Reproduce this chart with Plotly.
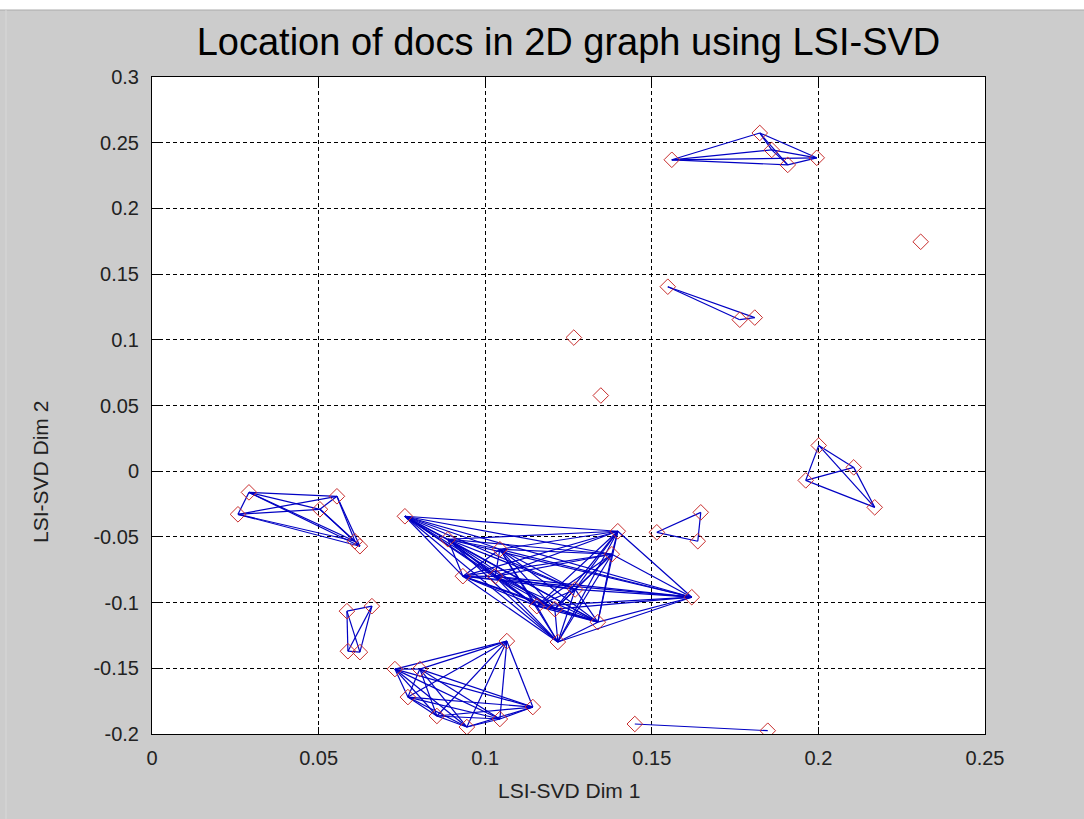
import plotly.graph_objects as go
import itertools

# ---- data ----
doc_x = [
    # top-right cluster
    0.156, 0.1824, 0.186, 0.1908, 0.1995,
    # upper middle trio
    0.1548, 0.1764, 0.1809,
    # isolated docs
    0.2307, 0.1266, 0.1347,
    # right cluster
    0.2001, 0.2106, 0.1962, 0.2169,
    # small middle trio
    0.1515, 0.1647, 0.1638,
    # left cluster
    0.0291, 0.0258, 0.0504, 0.0555, 0.0609, 0.0624,
    # small vertical cluster
    0.0585, 0.066, 0.0588, 0.0624,
    # big central cluster
    0.0759, 0.0888, 0.0933, 0.1044, 0.103, 0.1155, 0.1209, 0.1218, 0.127, 0.1338, 0.138, 0.1398, 0.162,
    # bottom cluster
    0.0729, 0.0804, 0.1065, 0.0768, 0.0855, 0.0945, 0.1044, 0.1143,
    # bottom pair
    0.1449, 0.1848,
]
doc_y = [
    0.237, 0.2574, 0.2445, 0.2331, 0.2385,
    0.1404, 0.1153, 0.1169,
    0.1746, 0.1017, 0.0576,
    0.0196, 0.0029, -0.007, -0.0275,
    -0.0465, -0.0313, -0.0533,
    -0.0161, -0.0328, -0.029, -0.0191, -0.0533, -0.0571,
    -0.1065, -0.1027, -0.137, -0.1377,
    -0.0343, -0.0518, -0.0799, -0.0594, -0.08, -0.1027, -0.105, -0.130, -0.09, -0.1149, -0.0632, -0.0457, -0.0959,
    -0.1506, -0.1506, -0.1293, -0.1719, -0.1863, -0.1947, -0.1886, -0.1795,
    -0.1924, -0.1975,
]
# groups of connected docs (indices into doc_x / doc_y)
groups = [
    [0, 1, 2, 3, 4],
    [5, 6, 7],
    [11, 12, 13, 14],
    [15, 16, 17],
    [18, 19, 20, 21, 22, 23],
    [24, 25, 26, 27],
    list(range(28, 41)),
    list(range(41, 49)),
    [49, 50],
]

x_ticks = [0, 0.05, 0.1, 0.15, 0.2, 0.25]
x_tick_text = ["0", "0.05", "0.1", "0.15", "0.2", "0.25"]
y_ticks = [-0.2, -0.15, -0.1, -0.05, 0, 0.05, 0.1, 0.15, 0.2, 0.25, 0.3]
y_tick_text = ["-0.2", "-0.15", "-0.1", "-0.05", "0", "0.05", "0.1", "0.15", "0.2", "0.25", "0.3"]

title_text = "Location of docs in 2D graph using LSI-SVD"
x_title = "LSI-SVD Dim 1"
y_title = "LSI-SVD Dim 2"

# ---- build edge polyline ----
ex, ey = [], []
for g in groups:
    for a, b in itertools.combinations(g, 2):
        ex += [doc_x[a], doc_x[b], None]
        ey += [doc_y[a], doc_y[b], None]

fig = go.Figure()
fig.add_trace(go.Scatter(
    x=ex, y=ey, mode="lines",
    line=dict(color="rgb(0,0,195)", width=1.2),
    hoverinfo="skip", showlegend=False,
))
fig.add_trace(go.Scatter(
    x=doc_x, y=doc_y, mode="markers",
    marker=dict(symbol="diamond-open", size=12, color="rgb(200,45,45)",
                line=dict(width=1, color="rgb(200,45,45)")),
    showlegend=False,
))

font_main = "Liberation Sans, Arial, sans-serif"
W, H = 1084, 819
L, R, T, B = 152, 99, 77, 85
pw, ph = W - L - R, H - T - B

axis_common = dict(
    showgrid=True, gridcolor="black", gridwidth=1, griddash="4px,3px",
    zeroline=False, showline=True, linecolor="black", linewidth=1,
    mirror="ticks", ticks="inside", ticklen=7, tickcolor="black",
    tickfont=dict(family=font_main, size=20, color="#222"),
)

fig.update_layout(
    width=W, height=H,
    margin=dict(l=L, r=R, t=T, b=B),
    paper_bgcolor="rgb(204,204,204)",
    plot_bgcolor="white",
    title=dict(text=title_text, x=(L + pw / 2) / W, xanchor="center",
               y=1 - 42 / H, yanchor="middle",
               font=dict(family=font_main, size=38, color="black")),
    xaxis=dict(range=[0, 0.25], tickvals=x_ticks, ticktext=x_tick_text,
               ticklabelstandoff=6, **axis_common),
    yaxis=dict(range=[-0.2, 0.3], tickvals=y_ticks, ticktext=y_tick_text,
               ticklabelstandoff=8, **axis_common),
    annotations=[
        dict(text=x_title, xref="paper", yref="paper", x=0.5, y=-(790 - T - ph) / ph,
             xanchor="center", yanchor="middle", showarrow=False,
             font=dict(family=font_main, size=21, color="#222")),
        dict(text=y_title, xref="paper", yref="paper", x=(40 - L) / pw, y=1 - (472 - T) / ph,
             xanchor="center", yanchor="middle", showarrow=False, textangle=-90,
             font=dict(family=font_main, size=21, color="#222")),
    ],
    shapes=[
        dict(type="rect", xref="paper", yref="paper",
             x0=-L / pw, x1=1 + R / pw, y0=1 + (T - 10) / ph, y1=1 + T / ph + 0.01,
             fillcolor="white", line=dict(width=0), layer="below"),
        dict(type="line", xref="paper", yref="paper",
             x0=-L / pw, x1=1 + R / pw, y0=1 + (T - 10) / ph, y1=1 + (T - 10) / ph,
             line=dict(color="rgb(170,170,170)", width=1)),
        dict(type="line", xref="paper", yref="paper",
             x0=-L / pw + 6 / pw, x1=-L / pw + 6 / pw, y0=-B / ph, y1=1 + (T - 10) / ph,
             line=dict(color="rgb(216,216,216)", width=1)),
    ],
)

fig.write_html("out.html", config={"displayModeBar": False},
               post_script="document.body.style.margin='0';document.body.style.padding='0';")
